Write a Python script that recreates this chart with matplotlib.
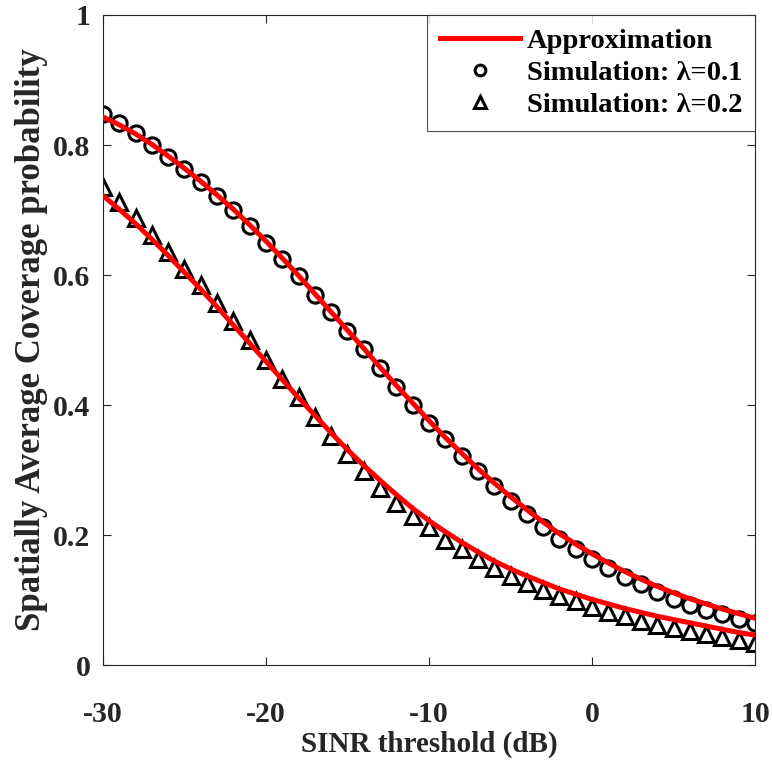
import numpy as np
import matplotlib
matplotlib.use('Agg')
import matplotlib.pyplot as plt

# SINR threshold (dB), one marker per dB
sinr_db = np.arange(-30, 11)

# simulation points
sim_01 = [0.848, 0.834, 0.818, 0.800, 0.782, 0.763, 0.743, 0.722, 0.700, 0.675,
          0.650, 0.625, 0.598, 0.570, 0.543, 0.514, 0.486, 0.457, 0.428, 0.400,
          0.372, 0.347, 0.322, 0.298, 0.275, 0.253, 0.232, 0.212, 0.194, 0.178,
          0.163, 0.149, 0.136, 0.124, 0.112, 0.102, 0.093, 0.085, 0.078, 0.071,
          0.064]
sim_02 = [0.735, 0.712, 0.688, 0.662, 0.636, 0.610, 0.585, 0.557, 0.530, 0.500,
          0.470, 0.440, 0.412, 0.382, 0.353, 0.325, 0.298, 0.273, 0.250, 0.230,
          0.212, 0.193, 0.178, 0.163, 0.150, 0.137, 0.126, 0.116, 0.106, 0.098,
          0.090, 0.082, 0.075, 0.068, 0.062, 0.057, 0.052, 0.047, 0.043, 0.039,
          0.034]

# approximation curves
approx_01 = [0.843, 0.831, 0.817, 0.801, 0.783, 0.764, 0.744, 0.723, 0.701, 0.677,
             0.652, 0.626, 0.599, 0.571, 0.543, 0.515, 0.487, 0.458, 0.430, 0.403,
             0.376, 0.350, 0.326, 0.302, 0.280, 0.259, 0.239, 0.220, 0.202, 0.186,
             0.171, 0.157, 0.144, 0.132, 0.121, 0.111, 0.102, 0.094, 0.086, 0.079,
             0.072]
approx_02 = [0.722, 0.701, 0.679, 0.655, 0.630, 0.604, 0.578, 0.551, 0.523, 0.495,
             0.467, 0.439, 0.411, 0.384, 0.357, 0.331, 0.307, 0.284, 0.262, 0.241,
             0.222, 0.205, 0.189, 0.174, 0.160, 0.148, 0.137, 0.127, 0.117, 0.109,
             0.101, 0.094, 0.087, 0.081, 0.075, 0.070, 0.065, 0.060, 0.055, 0.050,
             0.046]

plt.rcParams['font.family'] = 'Liberation Serif'
plt.rcParams['font.weight'] = 'bold'
plt.rcParams['axes.unicode_minus'] = False

fig = plt.figure(figsize=(7.72, 7.61), dpi=100)
ax = fig.add_axes([0.1334, 0.1261, 0.8446, 0.8542])

ax.plot(sinr_db, approx_01, color='red', lw=3.6, label='Approximation', zorder=3)
ax.plot(sinr_db, sim_01, 'o', ms=11, mfc='none', mec='black', mew=2.2,
        label='Simulation: λ=0.1', zorder=2)
ax.plot(sinr_db, sim_02, '^', ms=12, mfc='none', mec='black', mew=2.2,
        label='Simulation: λ=0.2', zorder=2)
ax.plot(sinr_db, approx_02, color='red', lw=3.6, zorder=3)

ax.set_xlim(-30, 10)
ax.set_ylim(0, 1)
ax.set_xticks([-30, -20, -10, 0, 10])
ax.set_yticks([0, 0.2, 0.4, 0.6, 0.8, 1])
ax.set_yticklabels(['0', '0.2', '0.4', '0.6', '0.8', '1'])
ax.tick_params(direction='in', top=True, right=True, length=6, width=0.8,
               labelsize=21.5, colors='#262626')
ax.tick_params(axis='x', pad=26)
ax.tick_params(axis='y', pad=9)
for s in ax.spines.values():
    s.set_color('#262626')
    s.set_linewidth(0.8)

ax.set_xlabel('SINR threshold (dB)', fontsize=21, fontweight='bold',
              color='#262626', labelpad=2)
ax.set_ylabel('Spatially Average Coverage probability', fontsize=25,
              fontweight='bold', color='#262626', labelpad=4)

leg = ax.legend(loc='upper right', fontsize=20.5, frameon=True, fancybox=False,
                edgecolor='#262626', borderaxespad=0, handlelength=2.8,
                borderpad=0.45, labelspacing=0.22, handletextpad=0.25,
                markerscale=0.7)
leg.get_frame().set_linewidth(0.8)

fig.savefig('out.png', dpi=100)
